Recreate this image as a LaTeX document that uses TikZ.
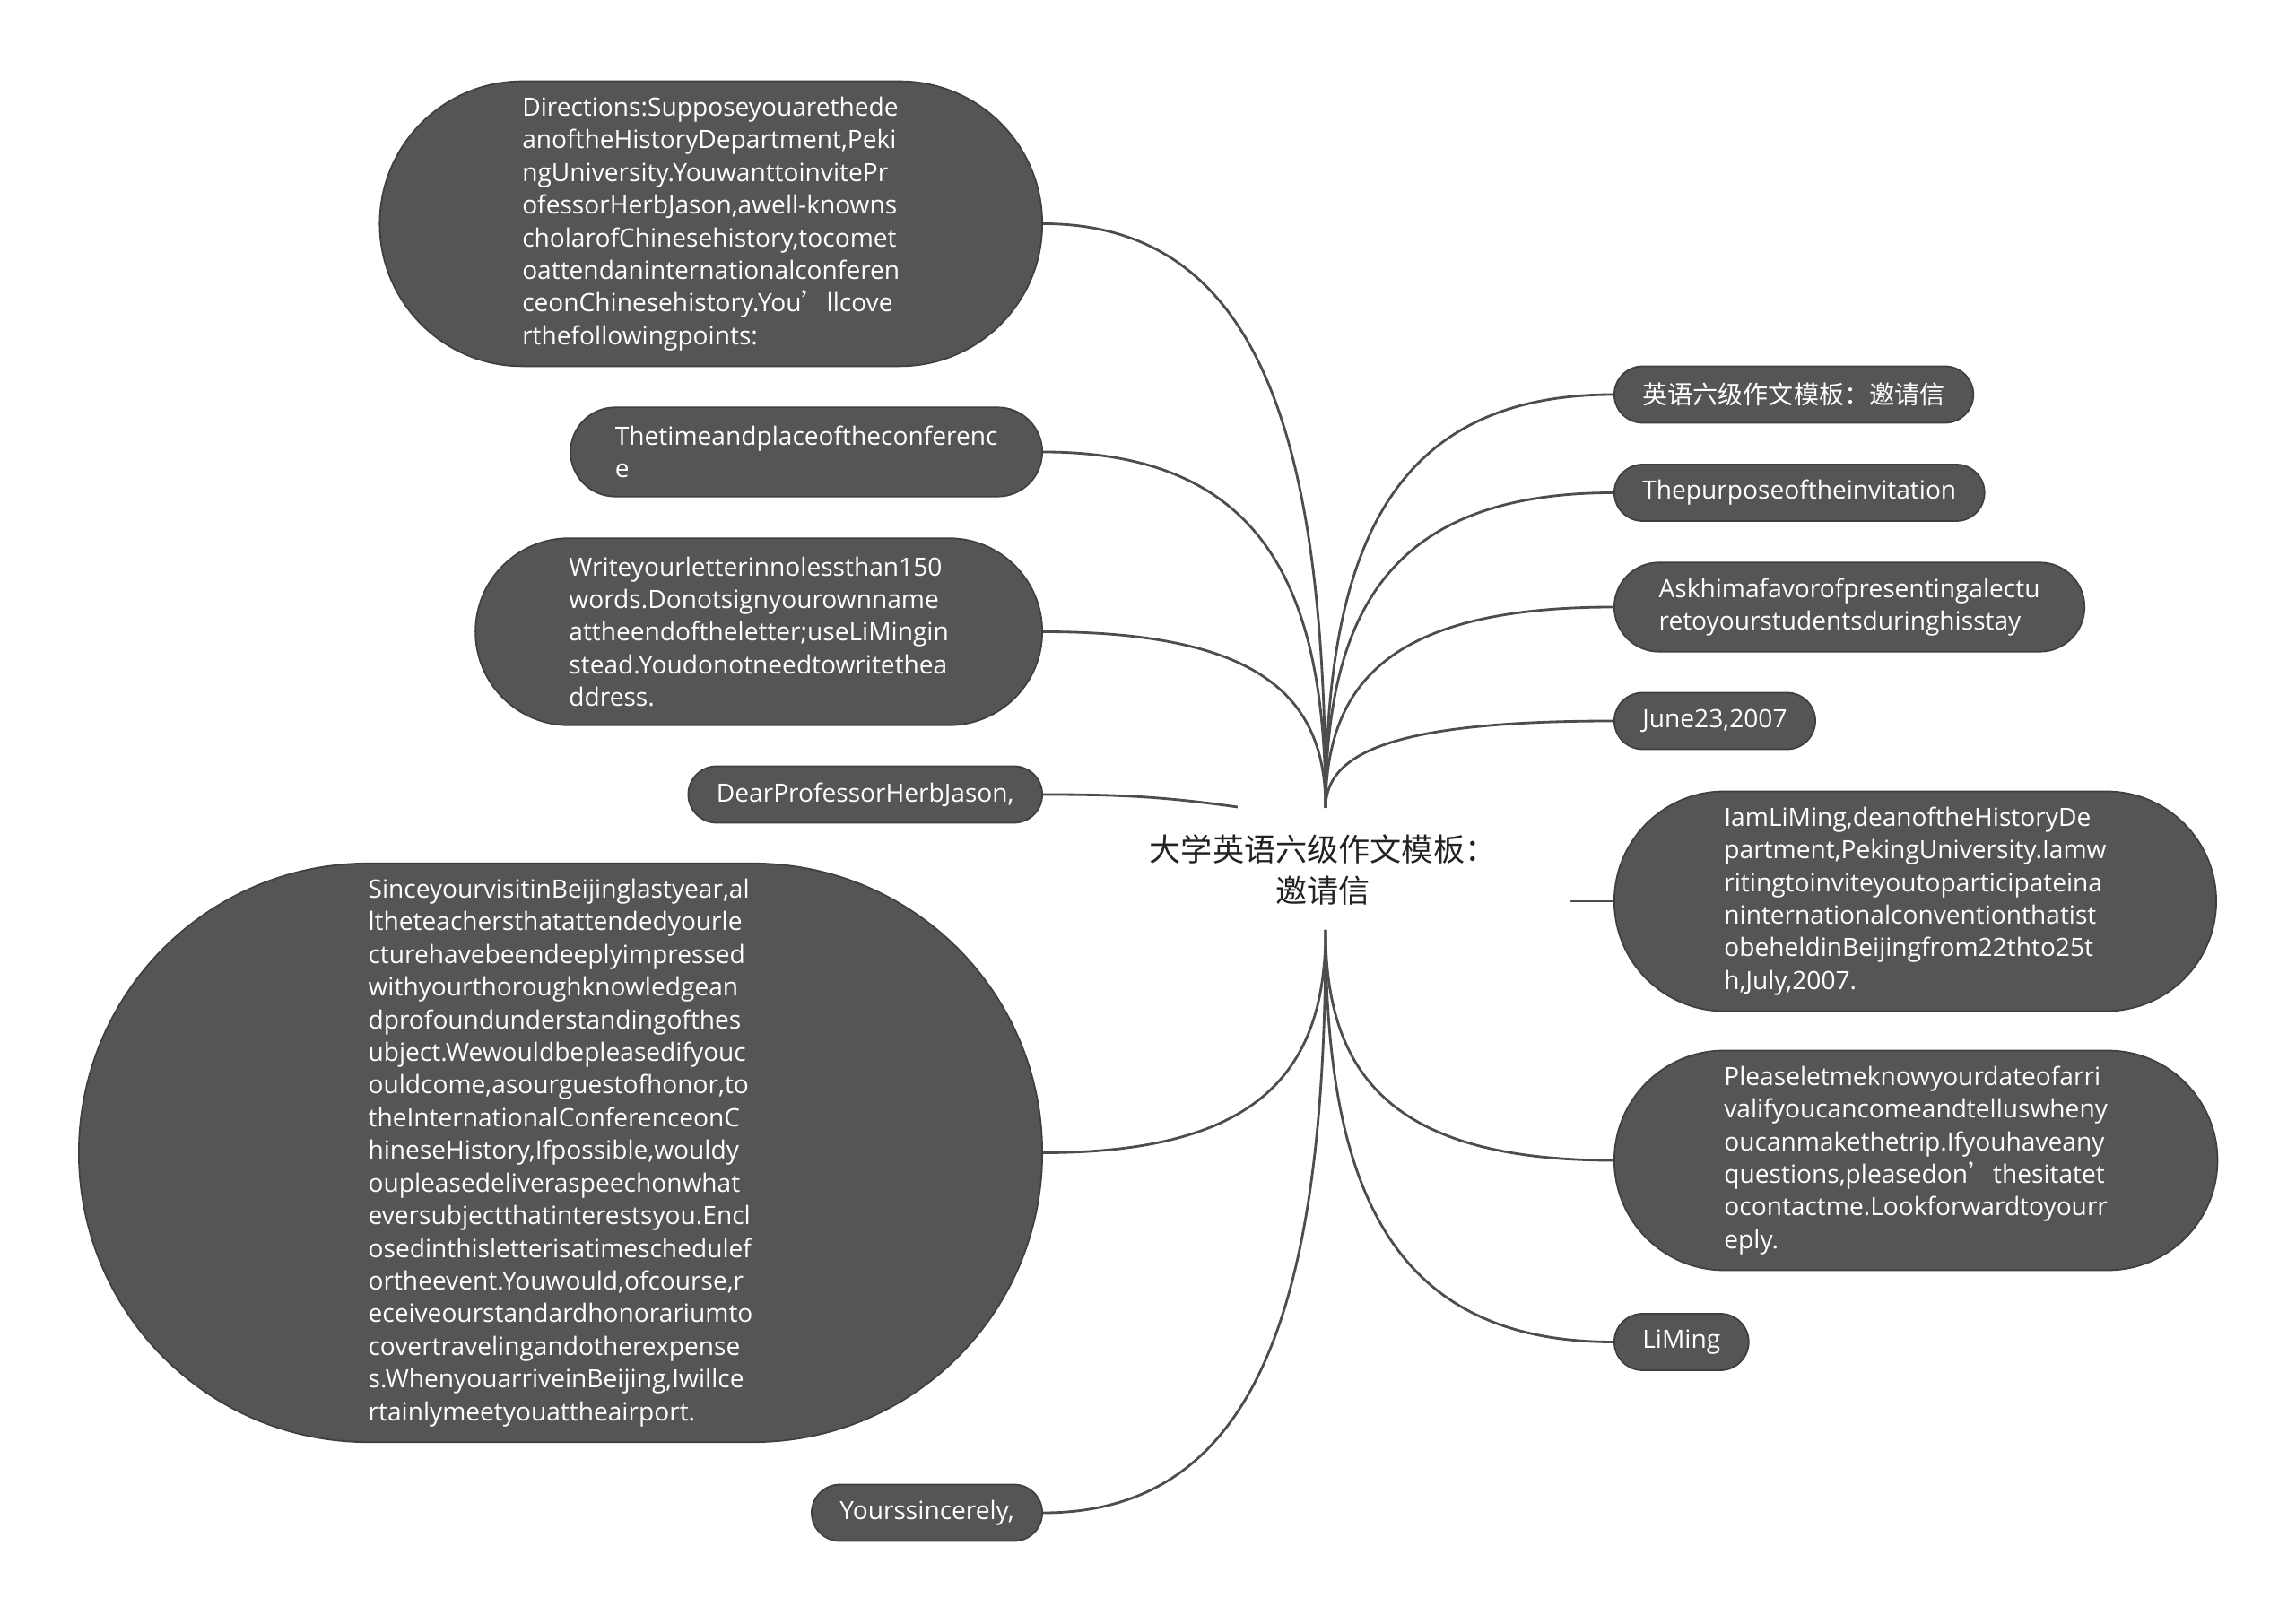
\documentclass[tikz,border=0pt]{standalone}
\usepackage{fontspec}
\setmainfont{Open Sans}
\newfontfamily\cjk{Noto Sans CJK SC}
\usetikzlibrary{calc}
\definecolor{PillGray}{HTML}{555555}
\definecolor{PillEdge}{HTML}{3F3F3F}
\definecolor{LinkGray}{HTML}{4D4D4D}
\definecolor{RootText}{HTML}{222222}
\newcommand{\pillfont}{\fontsize{8}{10.36}\selectfont}
\newcommand{\qt}{{\cjk ’}}

\begin{document}
\begin{tikzpicture}[
  pill/.style={rectangle,draw=PillEdge,line width=0.5pt,fill=PillGray,text=white,align=left,font=\pillfont,inner ysep=0pt,minimum height={0.63cm+(#1-1)*0.364cm},inner xsep={0.315cm+(#1-1)*0.182cm},rounded corners={0.315cm+(#1-1)*0.182cm}},
  lpill/.style={pill=#1,anchor=east},
  rpill/.style={pill=#1,anchor=west},
  link/.style={LinkGray,line width=0.8pt}
]
\useasboundingbox (0,0) rectangle (25.6,-18.11);
\node[font=\cjk\fontsize{10}{13}\selectfont,text=RootText,align=center] (root) at (14.75,-9.70) {大学英语六级作文模板：\\邀请信};
\coordinate (top) at (14.78,-9.01);
\coordinate (bot) at (14.78,-10.37);
\coordinate (lft) at (13.80,-9.00);
\coordinate (rgt) at (17.50,-10.05);

\node[lpill=8] (dir) at (11.63,-2.495) {Directions:Supposeyouarethede\\anoftheHistoryDepartment,Peki\\ngUniversity.YouwanttoinvitePr\\ofessorHerbJason,awell-knowns\\cholarofChinesehistory,tocomet\\oattendaninternationalconferen\\ceonChinesehistory.You\qt llcove\\rthefollowingpoints:};
\node[lpill=2] (time) at (11.63,-5.04) {Thetimeandplaceoftheconferenc\\e};
\node[lpill=5] (write) at (11.63,-7.045) {Writeyourletterinnolessthan150\\words.Donotsignyourownname\\attheendoftheletter;useLiMingin\\stead.Youdonotneedtowritethea\\ddress.};
\node[lpill=1] (dear) at (11.63,-8.86) {DearProfessorHerbJason,};
\node[lpill=17] (since) at (11.63,-12.855) {SinceyourvisitinBeijinglastyear,al\\ltheteachersthatattendedyourle\\cturehavebeendeeplyimpressed\\withyourthoroughknowledgean\\dprofoundunderstandingofthes\\ubject.Wewouldbepleasedifyouc\\ouldcome,asourguestofhonor,to\\theInternationalConferenceonC\\hineseHistory,Ifpossible,wouldy\\oupleasedeliveraspeechonwhat\\eversubjectthatinterestsyou.Encl\\osedinthisletterisatimeschedulef\\ortheevent.Youwould,ofcourse,r\\eceiveourstandardhonorariumto\\covertravelingandotherexpense\\s.WhenyouarriveinBeijing,Iwillce\\rtainlymeetyouattheairport.};
\node[lpill=1] (yours) at (11.63,-16.87) {Yourssincerely,};

\node[rpill=1] (title) at (17.99,-4.40) {{\cjk 英语六级作文模板：邀请信}};
\node[rpill=1] (purpose) at (17.99,-5.495) {Thepurposeoftheinvitation};
\node[rpill=2] (ask) at (17.99,-6.77) {Askhimafavorofpresentingalectu\\retoyourstudentsduringhisstay};
\node[rpill=1] (june) at (17.99,-8.04) {June23,2007};
\node[rpill=6] (iam) at (17.99,-10.05) {IamLiMing,deanoftheHistoryDe\\partment,PekingUniversity.Iamw\\ritingtoinviteyoutoparticipateina\\ninternationalconventionthatist\\obeheldinBeijingfrom22thto25t\\h,July,2007.};
\node[rpill=6] (please) at (17.99,-12.94) {Pleaseletmeknowyourdateofarri\\valifyoucancomeandtelluswheny\\oucanmakethetrip.Ifyouhaveany\\questions,pleasedon\qt thesitatet\\ocontactme.Lookforwardtoyourr\\eply.};
\node[rpill=1] (liming) at (17.99,-14.965) {LiMing};

\draw[link] (top) .. controls ($(top)!0.63!(top |- dir.east)$) and ($(dir.east)!0.77!(top |- dir.east)$) .. (dir.east);
\draw[link] (top) .. controls ($(top)!0.63!(top |- time.east)$) and ($(time.east)!0.77!(top |- time.east)$) .. (time.east);
\draw[link] (top) .. controls ($(top)!0.63!(top |- write.east)$) and ($(write.east)!0.77!(top |- write.east)$) .. (write.east);
\draw[link] (dear.east) to[out=0,in=172] (lft);
\draw[link] (bot) .. controls ($(bot)!0.63!(bot |- since.east)$) and ($(since.east)!0.77!(bot |- since.east)$) .. (since.east);
\draw[link] (bot) .. controls ($(bot)!0.63!(bot |- yours.east)$) and ($(yours.east)!0.77!(bot |- yours.east)$) .. (yours.east);
\draw[link] (top) .. controls ($(top)!0.63!(top |- title.west)$) and ($(title.west)!0.77!(top |- title.west)$) .. (title.west);
\draw[link] (top) .. controls ($(top)!0.63!(top |- purpose.west)$) and ($(purpose.west)!0.77!(top |- purpose.west)$) .. (purpose.west);
\draw[link] (top) .. controls ($(top)!0.63!(top |- ask.west)$) and ($(ask.west)!0.77!(top |- ask.west)$) .. (ask.west);
\draw[link] (top) .. controls ($(top)!0.63!(top |- june.west)$) and ($(june.west)!0.77!(top |- june.west)$) .. (june.west);
\draw[link] (rgt) -- (iam.west);
\draw[link] (bot) .. controls ($(bot)!0.63!(bot |- please.west)$) and ($(please.west)!0.77!(bot |- please.west)$) .. (please.west);
\draw[link] (bot) .. controls ($(bot)!0.63!(bot |- liming.west)$) and ($(liming.west)!0.77!(bot |- liming.west)$) .. (liming.west);
\end{tikzpicture}
\end{document}
